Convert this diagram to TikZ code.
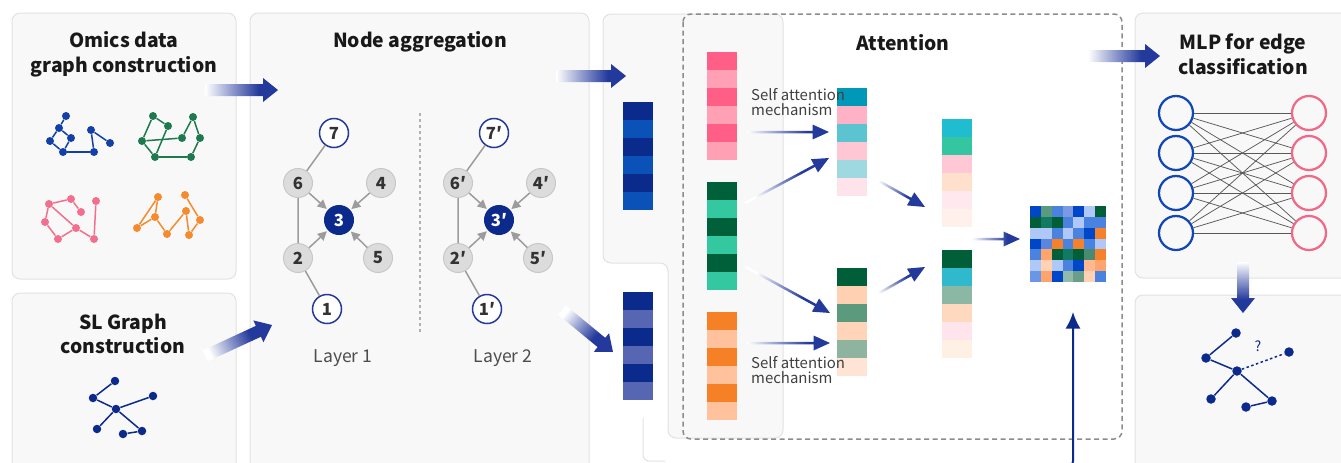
\documentclass[tikz,border=0pt]{standalone}
\usepackage{fontspec}
\setmainfont{Noto Sans CJK KR}
\usetikzlibrary{calc,arrows.meta}

\definecolor{panelfill}{HTML}{F8F8F8}
\definecolor{panelline}{HTML}{E2E2E2}
\definecolor{navy}{HTML}{0B2A8C}
\definecolor{arrowblue}{HTML}{23399B}
\definecolor{omblue}{HTML}{1240A8}
\definecolor{omgreen}{HTML}{1E7A4E}
\definecolor{ompink}{HTML}{F2708E}
\definecolor{omorange}{HTML}{F58A2E}
\definecolor{nodegray}{HTML}{DCDCDC}
\definecolor{nodeedge}{HTML}{C8C8C8}
\definecolor{linkgray}{HTML}{9C9C9C}
\definecolor{mlpblue}{HTML}{1247B8}
\definecolor{mlppink}{HTML}{F06A88}

% light tail -> solid head
\pgfdeclarehorizontalshading{arrowfade}{100bp}{color(0bp)=(white); color(25bp)=(white);
  color(45bp)=(arrowblue!55); color(62bp)=(arrowblue); color(100bp)=(arrowblue)}

% #1 half shaft, #2 half head, #3 head length, #4 tail, #5 tip, #6 shading angle
\newcommand{\gradarrow}[6]{%
  \coordinate (ga-base) at ($(#5)!#3!(#4)$);
  \path[shade, shading=arrowfade, shading angle=#6]
    ($(#4)!#1!90:(#5)$) -- ($(ga-base)!#1!90:(#5)$) -- ($(ga-base)!#2!90:(#5)$)
    -- (#5) -- ($(ga-base)!#2!-90:(#5)$) -- ($(ga-base)!#1!-90:(#5)$)
    -- ($(#4)!#1!-90:(#5)$) -- cycle;}
\newcommand{\fatarrow}{\gradarrow{1.2mm}{2.4mm}{3mm}}
\newcommand{\thinarrow}{\gradarrow{0.25mm}{1.5mm}{3.3mm}}

% embedding column: name, left x, top y, six cell colours
\newcommand{\embvec}[4]{%
  \node[inner sep=0pt, minimum width=6mm, minimum height=21.6mm] (#1) at (#2+15,#3+54) {};
  \foreach \c [count=\i from 0] in {#4}
    {\definecolor{cell}{HTML}{\c}\fill[cell] (#2,#3+18*\i) rectangle ++(30,18);}}

\begin{document}
\begin{tikzpicture}[x=0.2mm, y=-0.2mm,
  panel/.style={fill=panelfill, draw=panelline, line width=0.2mm, rounded corners=1.6mm},
  title/.style={font=\fontsize{11}{14}\selectfont\bfseries, align=center, text=black!90},
  dot/.style={circle, fill=#1, inner sep=0pt, minimum size=1.6mm},
  gnode/.style={circle, fill=nodegray, draw=nodeedge, line width=0.2mm, minimum size=5.8mm,
    inner sep=0pt, font=\fontsize{9.5}{9.5}\selectfont\bfseries, text=black!80},
  onode/.style={gnode, fill=white, draw=arrowblue, line width=0.3mm},
  cnode/.style={gnode, fill=navy, draw=navy, text=white},
  glink/.style={draw=linkgray, line width=0.3mm},
  gagg/.style={glink, -{Triangle[length=1.8mm,width=1.8mm]}, shorten >=0.3mm},
  neuron/.style={circle, draw=#1, line width=0.45mm, minimum size=6.8mm, inner sep=0pt},
  small/.style={font=\fontsize{8.5}{8.6}\selectfont, text=black!75, align=left}]

\useasboundingbox (0,0) rectangle (1341,462);

% panels
\draw[panel] (12,13) rectangle (236,279);
\draw[panel] (12,293) rectangle (236,480);
\draw[panel] (250,13) rectangle (589,480);
\draw[panel] (693,14) -- (783,14) -- (783,438) -- (668,438) -- (668,263) -- (603,263)
  -- (603,14) -- cycle;
\draw[panelline, line width=0.2mm, rounded corners=1.2mm] (643,418) -- (643,461) -- (665,461);
\draw[panel] (1135,13) rectangle (1360,278);
\draw[panel] (1135,295) rectangle (1360,480);
\draw[black!45, line width=0.3mm, dash pattern=on 1mm off 0.7mm, rounded corners=1.6mm]
  (683,14) rectangle (1122,439);

% titles
\node[title] (tOmics) at (124,54) {Omics data\\graph construction};
\node[title] (tSL) at (123,334) {SL Graph\\construction};
\node[title] (tAgg) at (420,42) {Node aggregation};
\node[title] (tAtt) at (903,43) {Attention};
\node[title] (tMLP) at (1243,54) {MLP for edge\\classification};

% omics graphs
\foreach \n/\x/\y in {b1/66/116, b2/59/128, b3/50/141, b4/71/138, b5/63/152, b6/91/130,
  b7/94/152, b8/110/143} \node[dot=omblue] (\n) at (\x,\y) {};
\foreach \a/\b in {b1/b2, b2/b3, b2/b4, b3/b5, b4/b5, b5/b7, b7/b6, b6/b8}
  \draw[omblue, line width=0.3mm] (\a) -- (\b);
\foreach \n/\x/\y in {g1/153/116, g2/168/126, g3/142/141, g4/182/138, g5/193/117, g6/200/138,
  g7/155/157, g8/191/157} \node[dot=omgreen] (\n) at (\x,\y) {};
\foreach \a/\b in {g1/g2, g1/g3, g3/g4, g2/g7, g3/g7, g7/g8, g8/g6, g6/g5, g5/g4}
  \draw[omgreen, line width=0.3mm] (\a) -- (\b);
\foreach \n/\x/\y in {p1/49/204, p2/71/199, p3/81/212, p4/45/222, p5/76/228, p6/58/239,
  p7/96/201, p8/94/239} \node[dot=ompink] (\n) at (\x,\y) {};
\foreach \a/\b in {p1/p2, p2/p3, p1/p4, p4/p6, p6/p5, p1/p5, p5/p8, p8/p7}
  \draw[ompink, line width=0.3mm] (\a) -- (\b);
\foreach \n/\x/\y in {o1/158/197, o2/155/217, o3/137/228, o4/167/234, o5/186/211, o6/185/195,
  o7/200/220, o8/189/235} \node[dot=omorange] (\n) at (\x,\y) {};
\foreach \a/\b in {o3/o1, o1/o2, o3/o2, o2/o4, o4/o5, o5/o8, o8/o7, o7/o6}
  \draw[omorange, line width=0.3mm] (\a) -- (\b);

% SL graph and predicted graph
\foreach \n/\x/\y in {s1/115/381, s2/93/398, s3/116/409, s4/153/396, s5/97/429, s6/123/434,
  s7/142/431} \node[dot=navy, minimum size=1.7mm] (\n) at (\x,\y) {};
\foreach \n/\x/\y in {r1/1236/333, r2/1206/358, r3/1237/371, r4/1289/352, r5/1211/399,
  r6/1246/407, r7/1272/401} \node[dot=navy, minimum size=1.9mm] (\n) at (\x,\y) {};
\foreach \a/\b in {1/2, 2/3, 3/5, 3/7, 7/6} {
  \draw[navy, line width=0.3mm] (s\a) -- (s\b);
  \draw[navy, line width=0.3mm] (r\a) -- (r\b);
}
\draw[navy, line width=0.3mm] (s3) -- (s4);
\draw[navy, line width=0.3mm, dash pattern=on 0.5mm off 0.5mm] (r3) -- (r4)
  node[midway, above, xshift=-1mm, yshift=0.6mm, font=\fontsize{8}{8}\selectfont, text=navy] (qm) {?};

% node aggregation, two layers
\foreach \l/\dx/\pr [count=\k] in {a/0/, b/160/′} {
  \node[onode] (\l7) at (334+\dx,133) {7\pr};
  \node[gnode] (\l6) at (298+\dx,183) {6\pr};
  \node[gnode] (\l4) at (381+\dx,183) {4\pr};
  \node[cnode] (\l3) at (339+\dx,220) {3\pr};
  \node[gnode] (\l2) at (298+\dx,258) {2\pr};
  \node[gnode] (\l5) at (378+\dx,258) {5\pr};
  \node[onode] (\l1) at (327+\dx,309) {1\pr};
  \draw[glink] (\l7) -- (\l6) (\l6) -- (\l2) (\l2) -- (\l1);
  \foreach \s in {6,4,2,5} \draw[gagg] (\l\s) -- (\l3);
  \node[font=\fontsize{10}{10}\selectfont, text=black!70] (lay\k) at (343+\dx,358) {Layer \k};
}
\draw[black!30, line width=0.25mm, dash pattern=on 0.6mm off 0.6mm] (420,113) -- (420,332);

% embeddings
\embvec{embA}{623}{102}{0A2A8C,0A52B8,0A2A8C,0A52B8,0A2A8C,0A52B8}
\embvec{embB}{623}{292}{0A2A8C,5766B2,0A2A8C,5766B2,0A2A8C,5766B2}
\embvec{omA}{707}{52}{FF5F86,FFA0B5,FF5F86,FFA0B5,FF5F86,FFA0B5}
\embvec{omB}{707}{182}{00603A,34C8A0,00603A,34C8A0,00603A,34C8A0}
\embvec{omC}{707}{312}{F58025,FFC29C,F58025,FFC29C,F58025,FFC29C}
\embvec{attA}{837}{88}{0098B8,FFB2C6,5CC4D0,FFC6D4,9ED8E0,FFE3EB}
\embvec{attB}{837}{268}{005E38,FFD0B2,5C9A7E,FFD4B8,8EB4A0,FFE4D6}
\embvec{mixA}{942}{119}{20BCD0,33C6A0,FFC8D4,FFE0CC,FFE8EE,FFF0EC}
\embvec{mixB}{942}{250}{005E38,30B8CC,8AB8A4,FFD8C0,FFE4EC,FFF0E4}

\node[small, anchor=west] (saA) at (745,102) {Self attention\\mechanism};
\node[small, anchor=west] (saB) at (745,370) {Self attention\\mechanism};

% interaction map
\foreach \row [count=\j from 0] in {
  {0046C8,5A9A80,4A82E0,7C9AE0,0046C8,B0C8F8,005E38},
  {005E38,127A60,005E38,4A82E0,B0C8F8,4A82E0,4A82E0},
  {B0C8F8,B0C8F8,4A82E0,B0C8F8,4A82E0,0046C8,F5822A},
  {0046C8,5A86E0,F5822A,4A82E0,F5822A,4A82E0,B0C8F8},
  {4A82E0,FFA46C,005E38,127A60,005E38,4A8A70,F5822A},
  {B0C8F8,FFD2B4,B0C8F8,4A82E0,0046C8,FFB890,FFA46C},
  {6A96E8,FFA46C,0046C8,92BAA8,6A9E88,FFD2B4,4A82E0}}
  \foreach \c [count=\i from 0] in \row
    {\definecolor{cell}{HTML}{\c}\fill[cell] (1030+10.86*\i,206+10.86*\j) rectangle ++(10.86,10.86);}
\node[inner sep=0pt, minimum size=15.2mm] (heat) at (1068,244) {};

% MLP
\foreach \i/\y in {1/113, 2/153, 3/193, 4/233} {
  \node[neuron=mlpblue] (in\i) at (1176,\y) {};
  \node[neuron=mlppink] (out\i) at (1309,\y) {};
}
\foreach \i in {1,...,4} \foreach \j in {1,...,4}
  \draw[black!65, line width=0.15mm] (in\i) -- (out\j);

% arrows between stages
\coordinate (omics-out) at (205,90);   \coordinate (agg-in1) at (278,90);
\coordinate (sl-out) at (205,356);     \coordinate (agg-in2) at (272,325);
\coordinate (agg-out1) at (556,76);    \coordinate (emb-in1) at (626,76);
\coordinate (agg-out2) at (562,310);   \coordinate (emb-in2) at (613,352);
\coordinate (att-out) at (1088,56);    \coordinate (mlp-in) at (1160,56);
\coordinate (mlp-out) at (1243,262);   \coordinate (pred-in) at (1243,313);
\fatarrow{omics-out}{agg-in1}{0}
\fatarrow{sl-out}{agg-in2}{25}
\fatarrow{agg-out1}{emb-in1}{0}
\fatarrow{agg-out2}{emb-in2}{-39.5}
\fatarrow{att-out}{mlp-in}{0}
\fatarrow{mlp-out}{pred-in}{-90}

\coordinate (omA-o) at (747,132);  \coordinate (attA-i1) at (829,132);
\coordinate (omB-o1) at (745,203); \coordinate (attA-i2) at (829,158);
\coordinate (omB-o2) at (746,267); \coordinate (attB-i1) at (830,313);
\coordinate (omC-o) at (747,343);  \coordinate (attB-i2) at (830,343);
\coordinate (attA-o) at (872,177); \coordinate (mixA-i) at (925,207);
\coordinate (attB-o) at (872,297); \coordinate (mixB-i) at (925,267);
\coordinate (mix-o) at (972,239);  \coordinate (heat-i) at (1020,239);
\thinarrow{omA-o}{attA-i1}{0}
\thinarrow{omB-o1}{attA-i2}{28}
\thinarrow{omB-o2}{attB-i1}{-29}
\thinarrow{omC-o}{attB-i2}{0}
\thinarrow{attA-o}{mixA-i}{-29.5}
\thinarrow{attB-o}{mixB-i}{29.5}
\thinarrow{mix-o}{heat-i}{0}

% SL graph feeds the map from below
\coordinate (sl-feed) at (1050,468);
\coordinate (heat-b) at (1073,312);
\draw[navy, line width=0.4mm, rounded corners=1.4mm, -{Latex[length=3.3mm,width=3mm]}]
  (sl-feed) -- (1073,468) -- (heat-b);
\end{tikzpicture}
\end{document}
